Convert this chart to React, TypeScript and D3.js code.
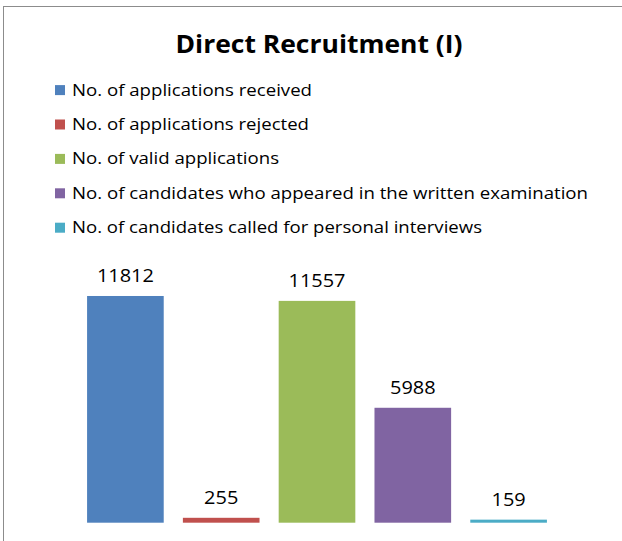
import React from "react";
import * as d3 from "d3";

const categories = [
  "No. of applications received",
  "No. of applications rejected",
  "No. of valid applications",
  "No. of candidates who appeared in the written examination",
  "No. of candidates called for personal interviews",
];
const values = [11812, 255, 11557, 5988, 159];
const colors = ["#4F81BD", "#C0504D", "#9BBB59", "#8064A2", "#4BACC6"];
const legendWidths = [240, 237, 207, 516, 410];
const title = "Direct Recruitment (I)";

const W = 622;
const H = 541;
const FONT = "'Open Sans', 'DejaVu Sans', sans-serif";

export default function App() {
  const x = d3
    .scaleBand<string>()
    .domain(categories)
    .range([77.5, 556.5])
    .paddingInner(0.2)
    .paddingOuter(0.1);
  const y = d3.scaleLinear().domain([0, 14000]).range([522.7, 254]);

  return (
    <svg
      width={W}
      height={H}
      style={{ position: "absolute", left: 0, top: 0, background: "#fff" }}
    >
      <rect x={0} y={0} width={W} height={H} fill="#fff" />
      <rect
        x={3.5}
        y={6.5}
        width={W + 20}
        height={H + 20}
        fill="none"
        stroke="#8c8c8c"
        strokeWidth={1}
      />
      <text
        x={319}
        y={53.3}
        textAnchor="middle"
        fontFamily={FONT}
        fontWeight="bold"
        fontSize={24.5}
        fill="#000"
        textLength={287}
        lengthAdjust="spacingAndGlyphs"
      >
        {title}
      </text>
      {categories.map((c, i) => (
        <g key={c} transform={`translate(0, ${95.6 + i * 34.4})`}>
          <rect x={55} y={-10.5} width={10} height={10} fill={colors[i]} />
          <text
            x={72}
            y={0}
            fontFamily={FONT}
            fontSize={17}
            fill="#000"
            textLength={legendWidths[i]}
            lengthAdjust="spacingAndGlyphs"
          >
            {c}
          </text>
        </g>
      ))}
      {categories.map((c, i) => (
        <g key={"b" + c}>
          <rect
            x={x(c)}
            y={y(values[i])}
            width={x.bandwidth()}
            height={y(0) - y(values[i])}
            fill={colors[i]}
          />
          <text
            x={(x(c) as number) + x.bandwidth() / 2}
            y={y(values[i]) - 13.7}
            textAnchor="middle"
            fontFamily={FONT}
            fontSize={18.5}
            fill="#000"
            textLength={String(values[i]).length * 11.4}
            lengthAdjust="spacingAndGlyphs"
          >
            {values[i]}
          </text>
        </g>
      ))}
    </svg>
  );
}
